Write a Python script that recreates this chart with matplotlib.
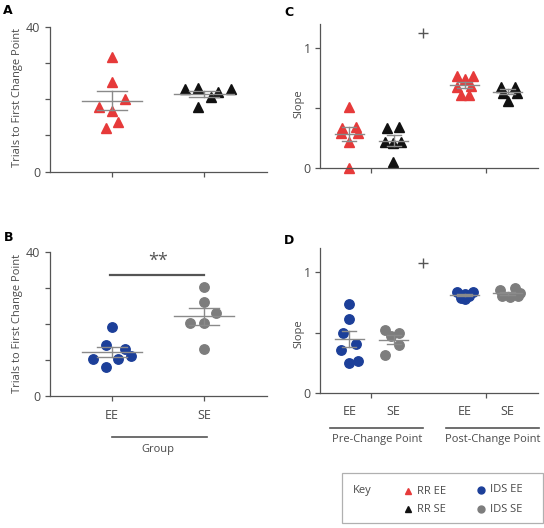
import numpy as np
import matplotlib.pyplot as plt
from matplotlib.lines import Line2D
from matplotlib.patches import Rectangle

plt.rcParams['font.family'] = ['Open Sans', 'DejaVu Sans']

# colours
RED = '#e63a3a'
BLACK = '#111111'
BLUE = '#1c3f99'
GRAY = '#7d7d7d'
LINE = '#555555'
TXT = '#4a4a4a'

# Panel A - trials to first change point (RR)
rr_ee_trials = [31.7, 24.8, 20.0, 17.9, 16.8, 13.8, 12.0]
rr_ee_trials_jit = [0, 0, 0.14, -0.14, 0, 0.07, -0.07]
rr_se_trials = [22.8, 23.0, 17.9, 20.7, 22.0, 22.8]
rr_se_trials_jit = [-0.21, -0.06, -0.06, 0.08, 0.15, 0.29]

# Panel B - trials to first change point (IDS)
ids_ee_trials = [19.1, 14.1, 13.1, 11.0, 10.1, 10.1, 8.1]
ids_ee_trials_jit = [0, -0.07, 0.14, 0.21, -0.21, 0.06, -0.07]
ids_se_trials = [30.1, 26.1, 23.1, 20.1, 20.1, 13.1]
ids_se_trials_jit = [0, 0, 0.13, -0.15, 0, 0]

# Panel C - slope (RR), pre and post change point
rr_ee_pre = [0.513, 0.333, 0.347, 0.29, 0.29, 0.222, 0.0]
rr_ee_pre_jit = [0, -0.16, 0.15, -0.19, 0.19, 0, 0]
rr_se_pre = [0.333, 0.347, 0.222, 0.208, 0.222, 0.055]
rr_se_pre_jit = [-0.16, 0.13, -0.2, -0.02, 0.16, -0.02]
rr_ee_post = [0.764, 0.742, 0.764, 0.68, 0.686, 0.61, 0.61]
rr_ee_post_jit = [-0.16, 0.02, 0.18, -0.17, 0.14, -0.08, 0.09]
rr_se_post = [0.68, 0.68, 0.63, 0.63, 0.56]
rr_se_post_jit = [-0.14, 0.16, -0.1, 0.22, 0.0]

# Panel D - slope (IDS), pre and post change point
ids_ee_pre = [0.736, 0.614, 0.5, 0.403, 0.356, 0.244, 0.267]
ids_ee_pre_jit = [0, 0, -0.15, 0.15, -0.19, 0, 0.19]
ids_se_pre = [0.52, 0.50, 0.47, 0.40, 0.31]
ids_se_pre_jit = [-0.2, 0.13, -0.05, 0.13, -0.2]
ids_ee_post = [0.84, 0.82, 0.84, 0.79, 0.80, 0.78]
ids_ee_post_jit = [-0.17, 0.02, 0.18, -0.08, 0.09, 0.0]
ids_se_post = [0.856, 0.87, 0.828, 0.80, 0.795, 0.80]
ids_se_post_jit = [-0.18, 0.16, 0.27, -0.12, 0.05, 0.23]

groups = ['EE', 'SE']
group_pos = [1, 2]
slope_pos = [1, 2, 3.6, 4.57]
phases = ['Pre-Change Point', 'Post-Change Point']

W, H = 544, 528


def px_axes(fig, l, t, r, b):
    return fig.add_axes([l / W, 1 - b / H, (r - l) / W, (b - t) / H])


def style(ax):
    for s in ['top', 'right']:
        ax.spines[s].set_visible(False)
    for s in ['left', 'bottom']:
        ax.spines[s].set_color(LINE)
        ax.spines[s].set_linewidth(0.9)
    ax.tick_params(colors=LINE, labelcolor=TXT, labelsize=9, length=3.5, width=0.9)


def scatter(ax, x, vals, jit, color, marker, ms):
    vals = np.array(vals)
    ax.plot(x + np.array(jit), vals, linestyle='none', marker=marker, ms=ms,
            color=color, mec=color, zorder=2, clip_on=False)
    m = vals.mean()
    se = vals.std(ddof=1) / np.sqrt(len(vals))
    ax.plot([x - 0.33, x + 0.33], [m, m], color='#8a8a8a', lw=1.0, zorder=3)
    ax.plot([x, x], [m - se, m + se], color='#8a8a8a', lw=1.0, zorder=3)
    for y in (m - se, m + se):
        ax.plot([x - 0.16, x + 0.16], [y, y], color='#8a8a8a', lw=1.0, zorder=3)


fig = plt.figure(figsize=(5.44, 5.28), dpi=100)

# ---- A ----
axA = px_axes(fig, 50, 26.7, 267, 171.7)
style(axA)
scatter(axA, group_pos[0], rr_ee_trials, rr_ee_trials_jit, RED, '^', 7.6)
scatter(axA, group_pos[1], rr_se_trials, rr_se_trials_jit, BLACK, '^', 7.6)
axA.set_xlim(0.326, 2.685)
axA.set_ylim(0, 40)
axA.set_yticks([0, 10, 20, 30, 40], ['0', '', '', '', '40'])
axA.set_xticks(group_pos, ['', ''])
axA.set_ylabel('Trials to First Change Point', fontsize=8, color=TXT)
axA.yaxis.set_label_coords(-0.124, 0.51)

# ---- B ----
axB = px_axes(fig, 50, 251.7, 267, 395.7)
style(axB)
scatter(axB, group_pos[0], ids_ee_trials, ids_ee_trials_jit, BLUE, 'o', 6.8)
scatter(axB, group_pos[1], ids_se_trials, ids_se_trials_jit, GRAY, 'o', 6.8)
axB.set_xlim(0.326, 2.685)
axB.set_ylim(0, 40)
axB.set_yticks([0, 10, 20, 30, 40], ['0', '', '', '', '40'])
axB.set_xticks(group_pos, groups)
axB.tick_params(axis='x', pad=6)
axB.set_ylabel('Trials to First Change Point', fontsize=8, color=TXT)
axB.yaxis.set_label_coords(-0.124, 0.5)
axB.plot([0.98, 2.0], [33.6, 33.6], color=LINE, lw=1.6)
axB.text(1.5, 35.0, '**', ha='center', va='bottom', fontsize=13, color=LINE)
axB.plot([1.0, 2.03], [-11.4, -11.4], color=LINE, lw=1.2, clip_on=False)
axB.text(1.5, -13.3, 'Group', ha='center', va='top', fontsize=8, color=TXT)

# ---- C ----
axC = px_axes(fig, 320.3, 24, 537.7, 168.3)
style(axC)
scatter(axC, slope_pos[0], rr_ee_pre, rr_ee_pre_jit, RED, '^', 6.8)
scatter(axC, slope_pos[1], rr_se_pre, rr_se_pre_jit, BLACK, '^', 6.8)
scatter(axC, slope_pos[2], rr_ee_post, rr_ee_post_jit, RED, '^', 6.8)
scatter(axC, slope_pos[3], rr_se_post, rr_se_post_jit, BLACK, '^', 6.8)
axC.set_xlim(0.345, 5.25)
axC.set_ylim(0, 1.2)
axC.set_yticks([0, 0.5, 1], ['0', '', '1'])
axC.set_xticks([1.5, 4.085], ['', ''])
axC.set_ylabel('Slope', fontsize=8, color=TXT)
axC.yaxis.set_label_coords(-0.075, 0.45)
axC.plot([2.66], [1.125], marker='+', ms=7, mew=1.0, color=LINE, clip_on=False)

# ---- D ----
axD = px_axes(fig, 320.3, 248.3, 537.7, 392.7)
style(axD)
scatter(axD, slope_pos[0], ids_ee_pre, ids_ee_pre_jit, BLUE, 'o', 6.8)
scatter(axD, slope_pos[1], ids_se_pre, ids_se_pre_jit, GRAY, 'o', 6.8)
scatter(axD, slope_pos[2], ids_ee_post, ids_ee_post_jit, BLUE, 'o', 6.8)
scatter(axD, slope_pos[3], ids_se_post, ids_se_post_jit, GRAY, 'o', 6.8)
axD.set_xlim(0.345, 5.25)
axD.set_ylim(0, 1.2)
axD.set_yticks([0, 0.5, 1], ['0', '', '1'])
axD.set_xticks([1.5, 4.085], ['', ''])
axD.set_ylabel('Slope', fontsize=8, color=TXT)
axD.yaxis.set_label_coords(-0.075, 0.41)
axD.plot([2.66], [1.078], marker='+', ms=7, mew=1.0, color=LINE, clip_on=False)
for p, g in zip(slope_pos, groups * 2):
    axD.text(p, -0.155, g, ha='center', va='center', fontsize=9, color=TXT, clip_on=False)
axD.plot([0.57, 2.67], [-0.293, -0.293], color=LINE, lw=1.2, clip_on=False)
axD.plot([3.17, 5.29], [-0.293, -0.293], color=LINE, lw=1.2, clip_on=False)
axD.text(1.62, -0.345, phases[0], ha='center', va='top', fontsize=8, color=TXT)
axD.text(4.23, -0.345, phases[1], ha='center', va='top', fontsize=8, color=TXT)

# panel letters
for lbl, x, y in [('A', 8, 11), ('B', 9, 238), ('C', 289, 12), ('D', 289, 240)]:
    fig.text(x / W, 1 - y / H, lbl, fontsize=9, fontweight='bold', color='black',
             ha='center', va='center', family='DejaVu Sans')

# key box
fig.patches.append(Rectangle((341.7 / W, 1 - 523 / H), (543 - 341.7) / W, 50 / H,
                             transform=fig.transFigure, fill=False, ec='#b0b0b0', lw=0.9))
fig.text(352.5 / W, 1 - 490 / H, 'Key', fontsize=8, color=TXT, va='center')
key_items = [(407.7, 491, '^', RED, 'RR EE'), (407.7, 509, '^', BLACK, 'RR SE'),
             (481, 490, 'o', BLUE, 'IDS EE'), (481, 509, 'o', GRAY, 'IDS SE')]
for x, y, mk, c, t in key_items:
    fig.add_artist(Line2D([x / W], [1 - y / H], marker=mk, ms=5, color=c,
                          linestyle='none', transform=fig.transFigure))
    fig.text((x + 9.5) / W, 1 - y / H, t, fontsize=8, color=TXT, va='center')

fig.savefig('out.png', dpi=100)
